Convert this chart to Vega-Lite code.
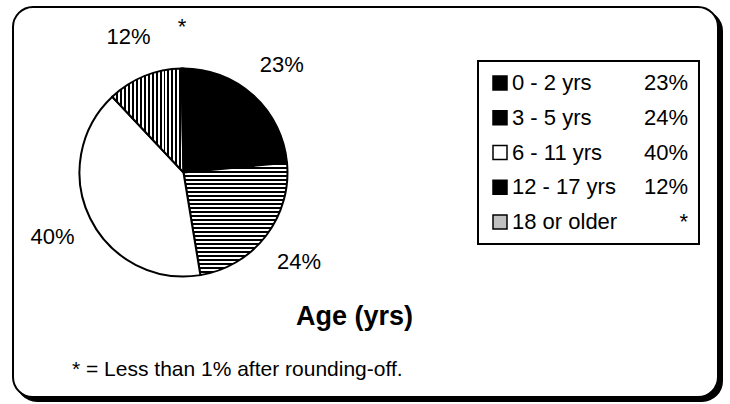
{
  "$schema": "https://vega.github.io/schema/vega-lite/v6.json",
  "width": 705,
  "height": 390,
  "autosize": "none",
  "padding": {"left": 13, "top": 7, "right": 12, "bottom": 7},
  "background": "white",
  "config": {"view": {"stroke": null}, "font": "Liberation Sans", "legend": {"strokeWidth": 2}},
  "title": {"text": "Age (yrs)", "orient": "bottom", "anchor": "middle", "frame": "group", "offset": -98, "dx": -11, "fontSize": 27, "fontWeight": "bold", "font": "Liberation Sans", "color": "black"},
  "data": {"values": [
    {"cat": "0 - 2 yrs", "value": 23.5, "pct": "23%", "order": 1},
    {"cat": "3 - 5 yrs", "value": 23.9, "pct": "24%", "order": 2},
    {"cat": "6 - 11 yrs", "value": 40.6, "pct": "40%", "order": 3},
    {"cat": "12 - 17 yrs", "value": 11.7, "pct": "12%", "order": 4},
    {"cat": "18 or older", "value": 0.3, "pct": "*", "order": 5}
  ]},
  "layer": [
    {
      "data": {"values": [{"frame": "shadow"}]},
      "mark": {"type": "rect", "fill": "black", "stroke": "black", "strokeWidth": 2, "cornerRadius": 20},
      "encoding": {"x": {"value": 4}, "x2": {"value": 709}, "y": {"value": 4}, "y2": {"value": 394}}
    },
    {
      "data": {"values": [{"frame": "box"}]},
      "mark": {"type": "rect", "fill": "white", "stroke": "black", "strokeWidth": 2, "cornerRadius": 20},
      "encoding": {"x": {"value": 0}, "x2": {"value": "width"}, "y": {"value": 0}, "y2": {"value": "height"}}
    },
    {
      "mark": {"type": "arc", "outerRadius": 104, "stroke": "black", "strokeWidth": 2, "x": {"expr": "width*0.2418"}, "y": {"expr": "height*0.4244"}},
      "encoding": {
        "theta": {"field": "value", "type": "quantitative", "stack": true},
        "order": {"field": "order", "type": "quantitative"},
        "fill": {
          "field": "cat", "type": "nominal",
          "scale": {"domain": ["0 - 2 yrs", "3 - 5 yrs", "6 - 11 yrs", "12 - 17 yrs", "18 or older"], "range": ["black", "black", "white", "black", "#c0c0c0"]},
          "condition": [
            {"test": "datum['cat'] === '6 - 11 yrs'", "value": "white"},
            {"test": "datum['cat'] === '3 - 5 yrs'", "value": {"gradient": "linear", "x1": 0, "y1": 0, "x2": 0, "y2": 1, "stops": [
              {"offset": 0, "color": "black"},
              {"offset": 0.0179, "color": "black"}, {"offset": 0.0179, "color": "white"},
              {"offset": 0.0357, "color": "white"}, {"offset": 0.0357, "color": "black"},
              {"offset": 0.0536, "color": "black"}, {"offset": 0.0536, "color": "white"},
              {"offset": 0.0714, "color": "white"}, {"offset": 0.0714, "color": "black"},
              {"offset": 0.0893, "color": "black"}, {"offset": 0.0893, "color": "white"},
              {"offset": 0.1071, "color": "white"}, {"offset": 0.1071, "color": "black"},
              {"offset": 0.125, "color": "black"}, {"offset": 0.125, "color": "white"},
              {"offset": 0.1429, "color": "white"}, {"offset": 0.1429, "color": "black"},
              {"offset": 0.1607, "color": "black"}, {"offset": 0.1607, "color": "white"},
              {"offset": 0.1786, "color": "white"}, {"offset": 0.1786, "color": "black"},
              {"offset": 0.1964, "color": "black"}, {"offset": 0.1964, "color": "white"},
              {"offset": 0.2143, "color": "white"}, {"offset": 0.2143, "color": "black"},
              {"offset": 0.2321, "color": "black"}, {"offset": 0.2321, "color": "white"},
              {"offset": 0.25, "color": "white"}, {"offset": 0.25, "color": "black"},
              {"offset": 0.2679, "color": "black"}, {"offset": 0.2679, "color": "white"},
              {"offset": 0.2857, "color": "white"}, {"offset": 0.2857, "color": "black"},
              {"offset": 0.3036, "color": "black"}, {"offset": 0.3036, "color": "white"},
              {"offset": 0.3214, "color": "white"}, {"offset": 0.3214, "color": "black"},
              {"offset": 0.3393, "color": "black"}, {"offset": 0.3393, "color": "white"},
              {"offset": 0.3571, "color": "white"}, {"offset": 0.3571, "color": "black"},
              {"offset": 0.375, "color": "black"}, {"offset": 0.375, "color": "white"},
              {"offset": 0.3929, "color": "white"}, {"offset": 0.3929, "color": "black"},
              {"offset": 0.4107, "color": "black"}, {"offset": 0.4107, "color": "white"},
              {"offset": 0.4286, "color": "white"}, {"offset": 0.4286, "color": "black"},
              {"offset": 0.4464, "color": "black"}, {"offset": 0.4464, "color": "white"},
              {"offset": 0.4643, "color": "white"}, {"offset": 0.4643, "color": "black"},
              {"offset": 0.4821, "color": "black"}, {"offset": 0.4821, "color": "white"},
              {"offset": 0.5, "color": "white"}, {"offset": 0.5, "color": "black"},
              {"offset": 0.5179, "color": "black"}, {"offset": 0.5179, "color": "white"},
              {"offset": 0.5357, "color": "white"}, {"offset": 0.5357, "color": "black"},
              {"offset": 0.5536, "color": "black"}, {"offset": 0.5536, "color": "white"},
              {"offset": 0.5714, "color": "white"}, {"offset": 0.5714, "color": "black"},
              {"offset": 0.5893, "color": "black"}, {"offset": 0.5893, "color": "white"},
              {"offset": 0.6071, "color": "white"}, {"offset": 0.6071, "color": "black"},
              {"offset": 0.625, "color": "black"}, {"offset": 0.625, "color": "white"},
              {"offset": 0.6429, "color": "white"}, {"offset": 0.6429, "color": "black"},
              {"offset": 0.6607, "color": "black"}, {"offset": 0.6607, "color": "white"},
              {"offset": 0.6786, "color": "white"}, {"offset": 0.6786, "color": "black"},
              {"offset": 0.6964, "color": "black"}, {"offset": 0.6964, "color": "white"},
              {"offset": 0.7143, "color": "white"}, {"offset": 0.7143, "color": "black"},
              {"offset": 0.7321, "color": "black"}, {"offset": 0.7321, "color": "white"},
              {"offset": 0.75, "color": "white"}, {"offset": 0.75, "color": "black"},
              {"offset": 0.7679, "color": "black"}, {"offset": 0.7679, "color": "white"},
              {"offset": 0.7857, "color": "white"}, {"offset": 0.7857, "color": "black"},
              {"offset": 0.8036, "color": "black"}, {"offset": 0.8036, "color": "white"},
              {"offset": 0.8214, "color": "white"}, {"offset": 0.8214, "color": "black"},
              {"offset": 0.8393, "color": "black"}, {"offset": 0.8393, "color": "white"},
              {"offset": 0.8571, "color": "white"}, {"offset": 0.8571, "color": "black"},
              {"offset": 0.875, "color": "black"}, {"offset": 0.875, "color": "white"},
              {"offset": 0.8929, "color": "white"}, {"offset": 0.8929, "color": "black"},
              {"offset": 0.9107, "color": "black"}, {"offset": 0.9107, "color": "white"},
              {"offset": 0.9286, "color": "white"}, {"offset": 0.9286, "color": "black"},
              {"offset": 0.9464, "color": "black"}, {"offset": 0.9464, "color": "white"},
              {"offset": 0.9643, "color": "white"}, {"offset": 0.9643, "color": "black"},
              {"offset": 0.9821, "color": "black"}, {"offset": 0.9821, "color": "white"},
              {"offset": 1, "color": "white"}
            ]}},
            {"test": "datum['cat'] === '12 - 17 yrs'", "value": {"gradient": "linear", "x1": 0, "y1": 0, "x2": 1.55, "y2": 0, "stops": [
              {"offset": 0, "color": "black"},
              {"offset": 0.0179, "color": "black"}, {"offset": 0.0179, "color": "white"},
              {"offset": 0.0357, "color": "white"}, {"offset": 0.0357, "color": "black"},
              {"offset": 0.0536, "color": "black"}, {"offset": 0.0536, "color": "white"},
              {"offset": 0.0714, "color": "white"}, {"offset": 0.0714, "color": "black"},
              {"offset": 0.0893, "color": "black"}, {"offset": 0.0893, "color": "white"},
              {"offset": 0.1071, "color": "white"}, {"offset": 0.1071, "color": "black"},
              {"offset": 0.125, "color": "black"}, {"offset": 0.125, "color": "white"},
              {"offset": 0.1429, "color": "white"}, {"offset": 0.1429, "color": "black"},
              {"offset": 0.1607, "color": "black"}, {"offset": 0.1607, "color": "white"},
              {"offset": 0.1786, "color": "white"}, {"offset": 0.1786, "color": "black"},
              {"offset": 0.1964, "color": "black"}, {"offset": 0.1964, "color": "white"},
              {"offset": 0.2143, "color": "white"}, {"offset": 0.2143, "color": "black"},
              {"offset": 0.2321, "color": "black"}, {"offset": 0.2321, "color": "white"},
              {"offset": 0.25, "color": "white"}, {"offset": 0.25, "color": "black"},
              {"offset": 0.2679, "color": "black"}, {"offset": 0.2679, "color": "white"},
              {"offset": 0.2857, "color": "white"}, {"offset": 0.2857, "color": "black"},
              {"offset": 0.3036, "color": "black"}, {"offset": 0.3036, "color": "white"},
              {"offset": 0.3214, "color": "white"}, {"offset": 0.3214, "color": "black"},
              {"offset": 0.3393, "color": "black"}, {"offset": 0.3393, "color": "white"},
              {"offset": 0.3571, "color": "white"}, {"offset": 0.3571, "color": "black"},
              {"offset": 0.375, "color": "black"}, {"offset": 0.375, "color": "white"},
              {"offset": 0.3929, "color": "white"}, {"offset": 0.3929, "color": "black"},
              {"offset": 0.4107, "color": "black"}, {"offset": 0.4107, "color": "white"},
              {"offset": 0.4286, "color": "white"}, {"offset": 0.4286, "color": "black"},
              {"offset": 0.4464, "color": "black"}, {"offset": 0.4464, "color": "white"},
              {"offset": 0.4643, "color": "white"}, {"offset": 0.4643, "color": "black"},
              {"offset": 0.4821, "color": "black"}, {"offset": 0.4821, "color": "white"},
              {"offset": 0.5, "color": "white"}, {"offset": 0.5, "color": "black"},
              {"offset": 0.5179, "color": "black"}, {"offset": 0.5179, "color": "white"},
              {"offset": 0.5357, "color": "white"}, {"offset": 0.5357, "color": "black"},
              {"offset": 0.5536, "color": "black"}, {"offset": 0.5536, "color": "white"},
              {"offset": 0.5714, "color": "white"}, {"offset": 0.5714, "color": "black"},
              {"offset": 0.5893, "color": "black"}, {"offset": 0.5893, "color": "white"},
              {"offset": 0.6071, "color": "white"}, {"offset": 0.6071, "color": "black"},
              {"offset": 0.625, "color": "black"}, {"offset": 0.625, "color": "white"},
              {"offset": 0.6429, "color": "white"}, {"offset": 0.6429, "color": "black"},
              {"offset": 0.6607, "color": "black"}, {"offset": 0.6607, "color": "white"},
              {"offset": 0.6786, "color": "white"}, {"offset": 0.6786, "color": "black"},
              {"offset": 0.6964, "color": "black"}, {"offset": 0.6964, "color": "white"},
              {"offset": 0.7143, "color": "white"}, {"offset": 0.7143, "color": "black"},
              {"offset": 0.7321, "color": "black"}, {"offset": 0.7321, "color": "white"},
              {"offset": 0.75, "color": "white"}, {"offset": 0.75, "color": "black"},
              {"offset": 0.7679, "color": "black"}, {"offset": 0.7679, "color": "white"},
              {"offset": 0.7857, "color": "white"}, {"offset": 0.7857, "color": "black"},
              {"offset": 0.8036, "color": "black"}, {"offset": 0.8036, "color": "white"},
              {"offset": 0.8214, "color": "white"}, {"offset": 0.8214, "color": "black"},
              {"offset": 0.8393, "color": "black"}, {"offset": 0.8393, "color": "white"},
              {"offset": 0.8571, "color": "white"}, {"offset": 0.8571, "color": "black"},
              {"offset": 0.875, "color": "black"}, {"offset": 0.875, "color": "white"},
              {"offset": 0.8929, "color": "white"}, {"offset": 0.8929, "color": "black"},
              {"offset": 0.9107, "color": "black"}, {"offset": 0.9107, "color": "white"},
              {"offset": 0.9286, "color": "white"}, {"offset": 0.9286, "color": "black"},
              {"offset": 0.9464, "color": "black"}, {"offset": 0.9464, "color": "white"},
              {"offset": 0.9643, "color": "white"}, {"offset": 0.9643, "color": "black"},
              {"offset": 0.9821, "color": "black"}, {"offset": 0.9821, "color": "white"},
              {"offset": 1, "color": "white"}
            ]}}
          ],
          "legend": {
            "orient": "none", "legendX": 465, "legendY": 54, "padding": 11, "title": null, "zindex": 2,
            "symbolType": "square", "symbolSize": 196, "symbolStrokeColor": "black", "symbolStrokeWidth": 1.5,
            "labelFont": "Liberation Sans", "labelFontSize": 22, "labelColor": "black", "labelOffset": 1, "labelLimit": 300,
            "rowPadding": 12.75,
            "encode": {"symbols": {"update": {
              "shape": {"condition": [
                {"test": "datum.value === '3 - 5 yrs'", "value": "M-1,-1H1V1H-1Z M-0.75,-0.45V-0.18H0.75V-0.45Z M-0.75,0.18V0.45H0.75V0.18Z"},
                {"test": "datum.value === '12 - 17 yrs'", "value": "M-1,-1H1V1H-1Z M-0.45,-0.75V0.75H-0.18V-0.75Z M0.18,-0.75V0.75H0.45V-0.75Z"}
              ], "value": "square"},
              "strokeWidth": {"condition": [
                {"test": "datum.value === '3 - 5 yrs' || datum.value === '12 - 17 yrs'", "value": 0}
              ], "value": 1.5}
            }}}
          }
        },
        "opacity": {
          "field": "pct", "type": "ordinal",
          "scale": {"domain": ["23%", "24%", "40%", "12%", "*"], "range": [1, 1]},
          "legend": {
            "orient": "none", "legendX": 465, "legendY": 54, "padding": 11, "title": null, "zindex": 1,
            "strokeColor": "black",
            "symbolType": "square", "symbolSize": 196, "symbolStrokeColor": "transparent", "symbolStrokeWidth": 0, "symbolFillColor": "transparent",
            "labelFont": "Liberation Sans", "labelFontSize": 22, "labelColor": "black", "labelAlign": "right", "labelOffset": 177, "labelLimit": 300,
            "rowPadding": 12.75
          }
        },
        "strokeWidth": {
          "datum": "* = Less than 1% after rounding-off.", "type": "ordinal",
          "scale": {"range": [2, 2]},
          "legend": {
            "orient": "none", "legendX": 38, "legendY": 352, "padding": 0, "title": null,
            "symbolSize": 0, "symbolStrokeColor": "transparent", "symbolStrokeWidth": 0, "symbolFillColor": "transparent",
            "labelFont": "Liberation Sans", "labelFontSize": 21, "labelColor": "black", "labelOffset": 0, "labelLimit": 0
          }
        }
      }
    },
    {
      "mark": {"type": "text", "radius": 146, "fontSize": 22, "font": "Liberation Sans", "color": "black", "x": {"expr": "width*0.2418"}, "y": {"expr": "height*0.4244"}},
      "encoding": {
        "theta": {"field": "value", "type": "quantitative", "stack": true},
        "order": {"field": "order", "type": "quantitative"},
        "text": {"field": "pct", "type": "nominal"}
      }
    }
  ]
}
